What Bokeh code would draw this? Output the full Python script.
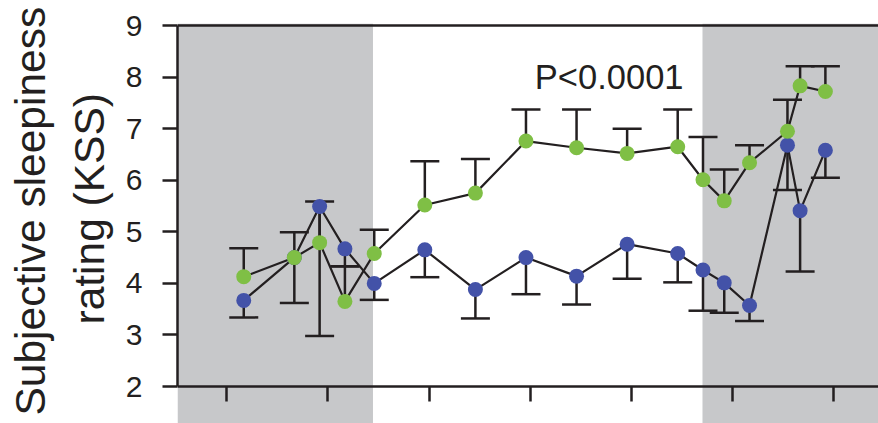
from bokeh.plotting import figure
from bokeh.models import (ColumnDataSource, BoxAnnotation, Whisker, TeeHead, Span,
                          Label, Title, LinearAxis, FixedTicker, Range1d)
from bokeh.embed import file_html
from bokeh.resources import INLINE

# Time of each rating (hours from the first axis tick)
hours = [0.67, 2.67, 3.67, 4.67, 5.83, 7.83, 9.83, 11.83, 13.83, 15.83,
         17.83, 18.83, 19.67, 20.67, 22.17, 22.67, 23.67]

# Mean KSS and error-bar ends for the two conditions
green_kss = [4.13, 4.50, 4.79, 3.65, 4.58, 5.52, 5.75, 6.76, 6.63, 6.52,
             6.65, 6.01, 5.60, 6.34, 6.95, 7.83, 7.72]
green_upper = [4.68, 4.99, 5.59, 4.33, 5.04, 6.37, 6.41, 7.37, 7.37, 7.00,
               7.37, 6.84, 6.21, 6.68, 7.56, 8.21, 8.21]
blue_kss = [3.67, 4.50, 5.49, 4.67, 4.00, 4.65, 3.88, 4.50, 4.14, 4.76,
            4.58, 4.26, 4.01, 3.57, 6.68, 5.41, 6.58]
blue_lower = [3.34, 3.62, 2.98, 4.33, 3.68, 4.12, 3.32, 3.79, 3.59, 4.09,
              4.02, 3.47, 3.43, 3.27, 5.81, 4.23, 6.05]

x_ticks = [0, 4, 8, 12, 16, 20, 24]
y_ticks = [2, 3, 4, 5, 6, 7, 8, 9]
dark_periods = [(-1.95, 5.78), (18.81, None)]
y_title = ["Subjective sleepiness", "rating (KSS)"]

INK = "#231f20"
GREEN = "#7fbf45"
BLUE = "#4352a8"
SHADE = "#c7c8ca"
FONT = "Liberation Sans"

src = ColumnDataSource(dict(x=hours, g=green_kss, gu=green_upper,
                            b=blue_kss, bl=blue_lower))

p = figure(width=878, height=423, output_backend="svg", toolbar_location=None,
           x_range=Range1d(-1.95, 25.77), y_range=Range1d(1.283, 9.039),
           x_axis_location=None, min_border_left=177, min_border_right=0,
           min_border_top=23, min_border_bottom=0)
p.outline_line_color = None
p.grid.grid_line_color = None
p.background_fill_color = "white"
p.border_fill_color = "white"

for left, right in dark_periods:
    p.add_layout(BoxAnnotation(left=left, right=right, fill_color=SHADE,
                               fill_alpha=1.0, line_color=None, level="underlay"))

# top frame line
p.add_layout(Span(location=9, dimension="width", line_color=INK, line_width=2.5))

# y axis
ya = p.yaxis[0]
ya.ticker = FixedTicker(ticks=y_ticks)
ya.bounds = (2, 9)
ya.axis_line_width = 2.5
ya.axis_line_color = INK
ya.major_tick_line_width = 2.5
ya.major_tick_line_color = INK
ya.major_tick_out = 15
ya.major_tick_in = 0
ya.minor_tick_line_color = None
ya.major_label_standoff = 20
ya.major_label_text_font = FONT
ya.major_label_text_font_size = "30px"
ya.major_label_text_color = INK

# y axis title: two rotated lines stacked outward from the axis
for text, shift, gap in zip(reversed(y_title), [99, 8], [20, 0]):
    p.add_layout(Title(text=text, align="left", offset=shift, standoff=gap,
                       text_font=FONT, text_font_size="42.5px",
                       text_font_style="normal", text_color=INK), "left")

# x axis sitting at y = 2, ticks only
xa = LinearAxis(fixed_location=2, ticker=FixedTicker(ticks=x_ticks),
                axis_line_width=2.5, axis_line_color=INK,
                major_tick_line_width=2.5, major_tick_line_color=INK,
                major_tick_out=15, major_tick_in=0,
                minor_tick_line_color=None,
                major_label_overrides={t: "" for t in x_ticks})
p.add_layout(xa, "below")

# error bars: green upward, blue downward
p.add_layout(Whisker(source=src, base="x", lower="g", upper="gu",
                     line_color=INK, line_width=2.5, lower_head=None,
                     upper_head=TeeHead(size=29, line_color=INK, line_width=2.5),
                     level="underlay"))
p.add_layout(Whisker(source=src, base="x", lower="bl", upper="b",
                     line_color=INK, line_width=2.5, upper_head=None,
                     lower_head=TeeHead(size=29, line_color=INK, line_width=2.5),
                     level="underlay"))

p.line("x", "b", source=src, line_color=INK, line_width=2.2)
p.line("x", "g", source=src, line_color=INK, line_width=2.2)
p.scatter("x", "b", source=src, size=15, fill_color=BLUE, line_color=None)
p.scatter("x", "g", source=src, size=15, fill_color=GREEN, line_color=None)

p.add_layout(Label(x=12.18, y=8.0, text="P<0.0001", text_font=FONT,
                   text_font_size="34.5px", text_color=INK,
                   text_baseline="alphabetic"))

open("out.html", "w").write(file_html(p, INLINE))
